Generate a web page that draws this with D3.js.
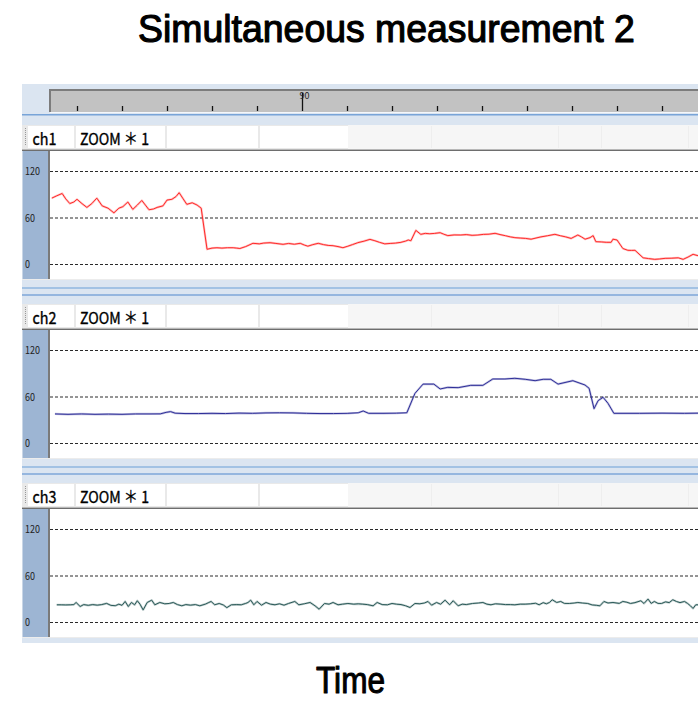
<!DOCTYPE html>
<html>
<head>
<meta charset="utf-8">
<script src="https://cdn.jsdelivr.net/npm/d3@7"></script>
<style>
  html, body { margin: 0; padding: 0; background: #fff; }
  svg { display: block; }
</style>
</head>
<body>
<svg id="chart" width="698" height="701"></svg>
<script>
// ---- text ----
const titleText = "Simultaneous measurement 2";
const xAxisTitle = "Time";
const channelNames = ["ch1", "ch2", "ch3"];
const zoomLabel = "ZOOM ＊ 1";

// ---- axes ----
const timeDomain = [34, 178];
const valueDomain = [0, 120];
const valueTicks = [0, 60, 120];
const rulerTicks = [40, 50, 60, 70, 80, 90, 100, 110, 120, 130, 140, 150, 160, 170];
const rulerLabelTicks = [90];

// ---- recorded channels: [time, value] ----
const ch1Data = [
  [34.4,85],[35.5,88],[36.7,91],[37.5,84],[38.4,78],[39.3,80],[40.0,83.5],[41.1,78],[42.2,73],[43.3,78],
  [44.4,85],[45.6,75],[46.9,72],[48.2,66],[49.3,72],[50.2,74],[51.3,80],[52.4,70.5],[53.4,76],[54.4,82],
  [55.2,76],[56.0,70],[57.0,71],[57.8,73],[59.1,75],[60.0,82.5],[61.1,83.5],[62.0,87],[62.7,92],[63.6,84],
  [64.4,77],[65.6,79],[66.7,76],[67.6,72],[68.9,19],[70.0,20.5],[71.1,21],[72.2,20.5],[73.4,21],[74.7,21],
  [75.5,20.5],[76.2,20],[77.5,22.5],[79.1,26.7],[80.5,26],[81.5,27],[82.9,27.5],[84.2,26.5],[85.8,25.4],[87.0,26.5],
  [88.3,25.5],[89.6,26.7],[90.5,24.5],[91.3,23],[92.4,25],[93.6,26.7],[94.8,25],[95.8,24],[96.9,23.6],[98.0,22.5],
  [99.1,21],[100.2,23],[101.2,25],[102.4,27.5],[103.8,29.5],[105.1,31.8],[106.2,30],[107.2,28],[108.4,26],[109.6,26.5],
  [110.8,27],[112.0,28],[113.0,29.5],[113.6,31],[114.2,30],[115.3,43.4],[116.4,38.3],[117.4,39.5],[118.4,39],[119.5,39.5],
  [120.7,40.4],[121.5,38.5],[122.4,36.6],[123.8,37.5],[125.3,37.4],[126.5,38],[127.8,37],[129.1,37.4],[130.3,38.2],[131.6,38.5],
  [132.9,39.6],[134.0,38],[135.2,36.5],[136.3,35],[137.3,34],[138.5,33.5],[139.7,33],[140.9,32],[142.0,33.5],[143.1,35],
  [144.6,36.5],[146.2,38.3],[147.4,36.5],[148.6,35],[149.8,33],[151.3,37.4],[152.1,35],[152.9,32],[154.0,34],[154.7,36.6],
  [155.3,28.8],[156.5,28.5],[157.6,28],[158.7,28],[159.1,32],[160.0,31],[161.3,20],[162.4,17.7],[163.2,17.5],[164.0,17.7],
  [165.8,8],[167.0,7],[168.4,6],[169.5,6.5],[170.7,7.3],[172.2,7.5],[173.6,8],[174.7,6],[175.8,9],[176.9,12.5],[178.0,10.7]
];

const ch2Data = [
  [35.1,37.5],[38,37],[41,37.5],[44,37],[47,37.3],[50,37],[53,37.5],[56,37.5],[58.5,37.6],[59.8,39.5],
  [60.8,40.5],[61.8,38.5],[64,38],[67,38],[70,38.3],[73,38],[76,38.6],[79,38.3],[82,38.8],[85,39],
  [88,38.8],[91,38.3],[94,38],[97,38],[100.2,38.3],[102.5,39],[103.6,41.3],[104.8,38.3],[108,38.3],[111,38.5],
  [113.3,39],[115.1,64],[116.9,76],[119.3,76],[120.7,69.7],[122.4,71.8],[124.7,71.4],[127.5,74.4],[130.2,74.4],[132.4,82.6],
  [135.1,82.6],[137.3,83.5],[139.6,82.2],[141.8,80.4],[143.6,82.2],[145.3,82.2],[146.9,76],[150.2,80.4],[152.9,74.8],[153.8,70.6],
  [154.9,44.3],[155.8,54.6],[156.9,59],[158.0,51.2],[159.3,38.3],[165,38.3],[170,38.5],[175,38.3],[178,38.5]
];

const ch3Data = [
  [35.5,22.2],[36.5,22.2],[37.5,22],[38.5,22.2],[39.3,22.5],[39.8,25.2],[40.7,20],[41.5,22.5],[42.5,21.5],[43.5,22.5],
  [44.5,21.7],[45.5,22.5],[46.6,24],[47.5,21.5],[48.5,21],[49.3,23],[50.0,21.5],[50.7,26.5],[51.4,20],[52.1,25.2],
  [52.8,22.2],[53.4,27.4],[54.0,23],[54.7,15.6],[55.6,25.2],[56.6,28.2],[57.3,22.2],[58.4,25.2],[59.5,23.5],[60.5,23.9],
  [61.4,25.2],[62.3,22.5],[63.3,20.9],[64.2,22.5],[65.2,21.7],[66.3,22.5],[67.3,20.9],[68.5,23],[69.3,25.2],[69.8,26.5],
  [70.6,22.2],[71.6,23.9],[72.5,22],[73.3,18.5],[74.3,22.2],[75.5,22.5],[76.5,22.2],[77.5,24],[78.0,25.2],[78.6,28.2],
  [79.3,22.2],[80.0,26.5],[81.0,21.7],[82.0,25.2],[83.0,23],[84.0,22.2],[85.0,23.5],[86.0,21.7],[87.0,23.9],[88.4,26.5],
  [89.3,22.2],[90.5,23.5],[91.8,25.2],[92.9,20.9],[93.8,16.5],[95.0,23.9],[96.0,23],[96.9,25.2],[98.0,22.2],[99.0,23],
  [100.2,23.9],[101.5,23],[102.5,23.5],[103.5,23],[104.5,22.5],[105.8,20.9],[106.7,25.2],[107.8,22.5],[109.0,22.2],[110.0,23.9],
  [111.0,23],[112.0,22.5],[113.0,21],[114.0,18.7],[115.1,23.9],[116.2,23.5],[117.2,24.5],[118.0,26.5],[118.8,21.7],[119.9,25.2],
  [120.8,23],[121.8,28.2],[122.8,22.2],[123.6,27.4],[124.7,20.9],[125.6,23],[126.5,22.5],[127.9,23.9],[129.2,24.5],[130.2,25.2],
  [131.1,23],[132.0,22.2],[133.0,23.5],[134.2,23],[135.2,22.5],[136.3,22.5],[137.3,22.2],[138.5,23],[139.6,23],[140.8,23.5],
  [141.9,24.2],[142.7,22.2],[143.6,25],[144.3,23.5],[145.0,25.2],[145.6,28.7],[146.6,25.2],[147.5,26.5],[148.3,24],[149.4,23.9],
  [150.5,24.5],[151.3,25.2],[152.3,24.5],[153.5,23.9],[154.5,22],[155.5,21.5],[156.2,20.9],[157.1,26.5],[158.0,24.5],[159.1,25.2],
  [160.5,24],[161.3,26.5],[162.2,25.5],[163.0,23.9],[164.0,25],[165.3,27.4],[166.0,23.9],[166.9,29.6],[167.6,24],[168.3,26.5],
  [169.1,24],[169.9,23.9],[170.8,26],[171.6,25],[172.4,28.7],[173.2,26.5],[174.0,25],[175.0,26.5],[175.7,23.9],[176.3,21],
  [176.9,17.5],[177.5,22.2],[178.2,22.2]
];

const channelSeries = [ch1Data, ch2Data, ch3Data];
const channelColors = ["#ff2a2a", "#2e2e98", "#2b5a58"];

// ---- drawing ----
const W = 698;
const svg = d3.select("#chart");
const font = "'Noto Sans CJK JP', 'Noto Sans', sans-serif";
const headingFont = "'Liberation Sans', Arial, sans-serif";

const left = 22, plotLeft = 50, plotRight = W;
const bandBlue = "#dbe5f1";

const x = d3.scaleLinear().domain(timeDomain).range([plotLeft, plotRight]);

// Narrow gothic lettering: set the text centred on cx, then squeeze it to the wanted width.
function narrowText(parent, str, cx, baseline, width, size, outline, family) {
  const t = parent.append("text")
    .attr("text-anchor", "middle")
    .style("font-family", family || font).style("font-size", size + "px")
    .style("fill", "#000")
    .text(str);
  if (outline) t.style("stroke", "#000").style("stroke-width", outline).style("stroke-linejoin", "round");
  const natural = t.node().getComputedTextLength();
  const k = natural > 0 ? width / natural : 1;
  t.attr("transform", `translate(${cx},${baseline}) scale(${k},1)`);
  return t;
}

// title
narrowText(svg, titleText, 386.5, 42, 497, 39, 1.2, headingFont);

// time ruler
svg.append("rect").attr("x", left).attr("y", 84).attr("width", W - left).attr("height", 41).attr("fill", bandBlue);
svg.append("rect").attr("x", plotLeft).attr("y", 89).attr("width", W - plotLeft).attr("height", 23).attr("fill", "#c2c2c2");
svg.append("rect").attr("x", plotLeft).attr("y", 89).attr("width", W - plotLeft).attr("height", 2).attr("fill", "#7c7c7c");
svg.append("rect").attr("x", plotLeft - 1).attr("y", 89).attr("width", 2).attr("height", 23).attr("fill", "#7c7c7c");
svg.append("rect").attr("x", plotLeft).attr("y", 112).attr("width", W - plotLeft).attr("height", 1).attr("fill", "#f4f7fb");
svg.append("rect").attr("x", left).attr("y", 114).attr("width", W - left).attr("height", 1.5).attr("fill", "#78a4d8");

const ruler = svg.append("g").attr("transform", "translate(0,111)")
  .call(d3.axisTop(x).tickValues(rulerTicks).tickSize(5).tickFormat(""));
ruler.select(".domain").remove();
ruler.selectAll(".tick line").attr("stroke", "#111").attr("stroke-width", 1.3);
ruler.selectAll(".tick").filter(d => rulerLabelTicks.includes(d))
  .each(function (d) {
    const t = d3.select(this);
    t.select("line").attr("y2", -18);
    t.append("text").attr("x", -3).attr("y", -12)
      .attr("text-anchor", "start").attr("fill", "#222")
      .style("font-family", font).style("font-size", "9px")
      .text(String(d));
  });

// channel panels
const headerTops = [125, 304, 483];
const headerH = 24, sepH = 2, plotH = 128;

channelNames.forEach((name, i) => {
  const hTop = headerTops[i];
  const pTop = hTop + headerH + sepH;
  const pBottom = pTop + plotH;

  // header row
  svg.append("rect").attr("x", left).attr("y", hTop).attr("width", W - left).attr("height", headerH).attr("fill", "#f6f6f6");
  svg.append("rect").attr("x", left).attr("y", hTop).attr("width", 326).attr("height", headerH).attr("fill", "#e9e9e9");
  [[28, 46], [76, 89], [167, 91], [260, 88]].forEach(([cx, cw]) => {
    svg.append("rect").attr("x", cx).attr("y", hTop + 1).attr("width", cw).attr("height", headerH - 2).attr("fill", "#fff");
  });
  [431, 558, 601, 688].forEach(cx => {
    svg.append("rect").attr("x", cx).attr("y", hTop + 1).attr("width", 1).attr("height", headerH - 2).attr("fill", "#eeeeee");
  });
  svg.append("line").attr("x1", 25.5).attr("x2", 25.5).attr("y1", hTop + 3).attr("y2", hTop + headerH - 3)
    .attr("stroke", "#9a9a9a").attr("stroke-dasharray", "1,1");
  narrowText(svg, name, 44.5, hTop + 20, 24, 16.5, 0.35);
  narrowText(svg, zoomLabel, 114.5, hTop + 20, 69, 16.5, 0.35);

  // separator under header
  svg.append("rect").attr("x", left).attr("y", hTop + headerH).attr("width", W - left).attr("height", 1).attr("fill", "#b8b8b8");
  svg.append("rect").attr("x", left).attr("y", hTop + headerH + 1).attr("width", W - left).attr("height", 1.5).attr("fill", "#6e6e6e");

  // plot body
  svg.append("rect").attr("x", left).attr("y", pTop).attr("width", plotLeft - left).attr("height", plotH).attr("fill", "#9db5d3");
  svg.append("rect").attr("x", plotLeft - 2).attr("y", pTop).attr("width", 2).attr("height", plotH).attr("fill", "#7a7a7a");
  svg.append("rect").attr("x", plotLeft).attr("y", pTop).attr("width", W - plotLeft).attr("height", plotH).attr("fill", "#fff");
  svg.append("rect").attr("x", left).attr("y", pTop).attr("width", 1).attr("height", plotH).attr("fill", "#c9d6e6");

  // band beneath
  const bandH = i < 2 ? headerTops[i + 1] - pBottom : 6;
  svg.append("rect").attr("x", left).attr("y", pBottom).attr("width", W - left).attr("height", 1).attr("fill", "#ececec");
  svg.append("rect").attr("x", left).attr("y", pBottom + 1).attr("width", W - left).attr("height", bandH - 1).attr("fill", bandBlue);
  if (i < 2) {
    svg.append("rect").attr("x", left).attr("y", pBottom + 8.5).attr("width", W - left).attr("height", 1).attr("fill", "#6a9fd8");
    svg.append("rect").attr("x", left).attr("y", pBottom + 15).attr("width", W - left).attr("height", 2).attr("fill", "#95b6df");
  }

  const y = d3.scaleLinear().domain(valueDomain).range([pTop + 113, pTop + 20]);

  // gridlines and value labels
  const gy = svg.append("g").attr("transform", `translate(${plotLeft},0)`)
    .call(d3.axisRight(y).tickValues(valueTicks).tickSize(W - plotLeft).tickFormat(d3.format("d")));
  gy.select(".domain").remove();
  gy.selectAll(".tick line").attr("stroke", "#2a2a2a").attr("stroke-width", 1).attr("stroke-dasharray", "3,2");
  gy.selectAll(".tick text")
    .attr("x", left + 3 - plotLeft).attr("dy", "0.35em").attr("text-anchor", "start")
    .attr("fill", "#222")
    .style("font-family", font).style("font-size", "10.5px")
    .each(function (d) {
      const s = String(d);
      d3.select(this).attr("textLength", s.length * 5).attr("lengthAdjust", "spacingAndGlyphs");
    });

  // clip for the trace
  const clipId = "clip-" + name;
  svg.append("clipPath").attr("id", clipId)
    .append("rect").attr("x", plotLeft).attr("y", pTop).attr("width", W - plotLeft).attr("height", plotH);

  const line = d3.line().x(d => x(d[0])).y(d => y(d[1]));
  const trace = svg.append("g").attr("clip-path", `url(#${clipId})`);
  trace.append("path").datum(channelSeries[i])
    .attr("d", line).attr("fill", "none")
    .attr("stroke", channelColors[i]).attr("stroke-opacity", 0.3).attr("stroke-width", 2.2)
    .attr("stroke-linejoin", "round");
  trace.append("path").datum(channelSeries[i])
    .attr("d", line).attr("fill", "none")
    .attr("stroke", channelColors[i]).attr("stroke-width", 1)
    .attr("stroke-linejoin", "round");
});

// axis title
narrowText(svg, xAxisTitle, 350.5, 693, 69, 37, 1.1, headingFont);
</script>
</body>
</html>
